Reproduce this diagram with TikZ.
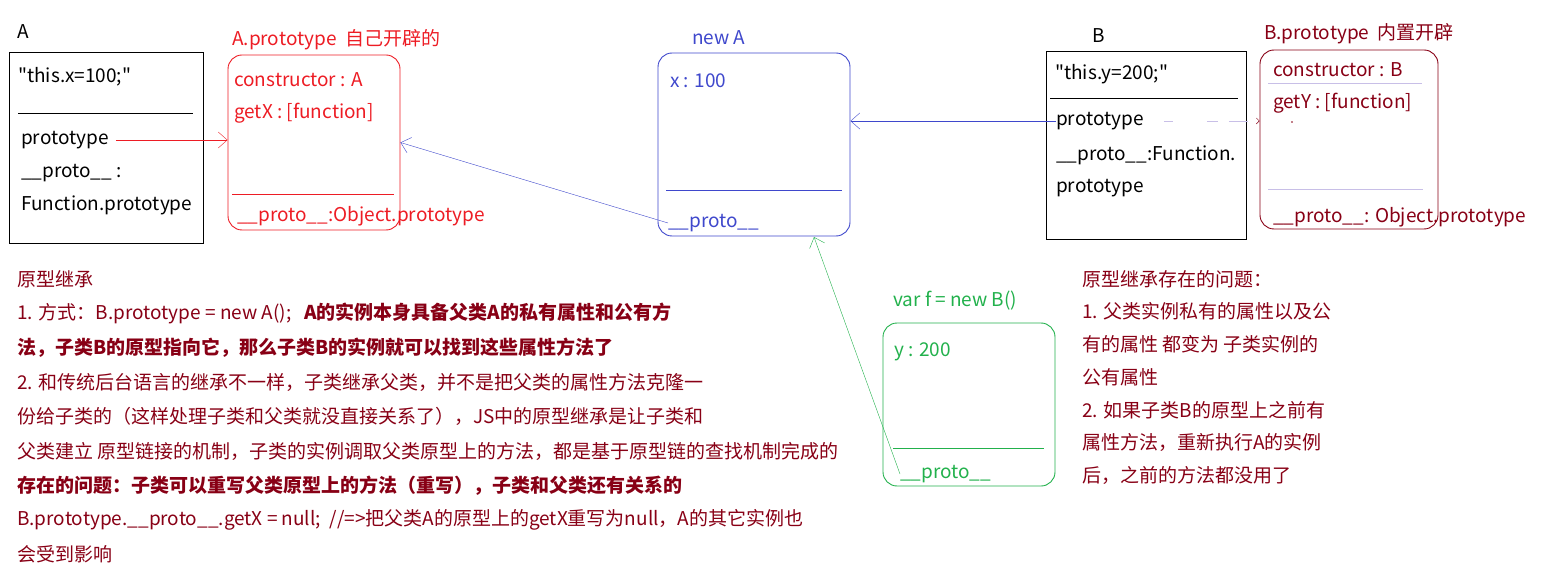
\documentclass[tikz,border=0pt]{standalone}
\usepackage{fontspec}
\setmainfont{Noto Sans CJK SC}[Ligatures=TeXOff]
\usetikzlibrary{arrows.meta}
\definecolor{pred}{HTML}{ED1C24}
\definecolor{pblue}{HTML}{3F48CC}
\definecolor{pgreen}{HTML}{22B14C}
\definecolor{pdark}{HTML}{880015}
\definecolor{plav}{HTML}{C8BFE7}

\begin{document}
\begin{tikzpicture}[x=1pt,y=-1pt,
  txt/.style={anchor=west,inner sep=0pt,yshift=-2pt,font=\fontsize{19}{21}\selectfont},
  note/.style={txt,pdark,font=\fontsize{19}{21}\selectfont},
  obj/.style={draw,line width=0.9pt,inner sep=0pt},
  rbox/.style={obj,rounded corners=14pt},
  tip/.style={-{Straight Barb[length=9pt,width=16pt]}}]

\useasboundingbox (0,0) rectangle (1544,577);

% A
\node[txt] (alab) at (17,30) {A};
\node[obj,minimum width=194,minimum height=191] (abox) at (106,147.5) {};
\node[txt] (athis) at (18,75) {"this.x=100;"};
\draw (18,113) -- (193,113);
\node[txt] (aprop) at (21,138) {prototype};
\node[txt] (aproto) at (21,171) {\_\_proto\_\_ :};
\node[txt] (afun) at (21,203) {Function.prototype};

% A.prototype
\node[txt,pred] (aplab) at (232,38) {A.prototype\ \ 自己开辟的};
\node[rbox,pred,minimum width=172,minimum height=175] (apbox) at (314,142.5) {};
\node[txt,pred] (apcons) at (234,78) {constructor : A};
\node[txt,pred] (apget) at (234,111) {getX : [function]};
\draw[pred] (232,194) -- (394,194);
\node[txt,pred] (approto) at (237,214) {\_\_proto\_\_:Object.prototype};

% new A
\node[txt,pblue] (nlab) at (692,36) {new A};
\node[rbox,pblue,minimum width=192,minimum height=183] (nbox) at (754,144.5) {};
\node[txt,pblue] (nx) at (670,79) {x : 100};
\draw[pblue] (666,190) -- (842,190);
\node[txt,pblue] (nproto) at (668,221) {\_\_proto\_\_};

% B
\node[txt] (blab) at (1092,34) {B};
\node[obj,minimum width=200,minimum height=188] (bbox) at (1146,145) {};
\node[txt] (bthis) at (1055,72) {"this.y=200;"};
\draw (1050,98) -- (1238,98);
\node[txt] (bprop) at (1056,119) {prototype};
\node[txt] (bproto) at (1056,153) {\_\_proto\_\_:Function.};
\node[txt] (bprop2) at (1056,186) {prototype};

% B.prototype
\node[txt,pdark] (bplab) at (1264,32) {B.prototype\ \ 内置开辟};
\node[rbox,pdark,minimum width=178,minimum height=179] (bpbox) at (1349,139.5) {};
\node[txt,pdark] (bpcons) at (1273,68) {constructor : B};
\draw[plav] (1268,83) -- (1422,83);
\node[txt,pdark] (bpget) at (1273,101) {getY : [function]};
\fill[pdark] (1292,122) circle (0.8);
\draw[plav] (1268,189) -- (1423,189);
\node[txt,pdark] (bpproto) at (1273,215) {\_\_proto\_\_: Object.prototype};

% var f
\node[txt,pgreen] (flab) at (893,299) {var f = new B()};
\node[rbox,pgreen,minimum width=172,minimum height=163] (fbox) at (969,404.5) {};
\node[txt,pgreen] (fy) at (894,350) {y : 200};
\draw[pgreen] (893,448) -- (1044,448);
\node[txt,pgreen] (fproto) at (900,472) {\_\_proto\_\_};

% connectors
\draw[pred,tip,shorten <=7pt] (aprop.east) -- (aprop.east -| apbox.west);
\draw[pblue,tip] (nproto.west) -- (apbox.east);
\draw[pblue,tip] (bprop.west) -- (bprop.west -| nbox.east);
\draw[plav,dash pattern=on 9pt off 34pt on 11pt off 11pt on 19pt off 10pt,
  -{Straight Barb[length=3pt,width=6pt,color=pdark]},shorten <=20pt]
  (bprop.east) -- (bprop.east -| bpbox.west);
\coordinate (ftip) at (814,237);
\draw[pgreen,tip] (fproto.west) -- (ftip);

% notes
\foreach \t [count=\i] in {原型继承,
  1. 方式：B.prototype\ =\ new A();\ \ \ {\bfseries A的实例本身具备父类A的私有属性和公有方},
  {\bfseries 法，子类B的原型指向它，那么子类B的实例就可以找到这些属性方法了},
  2. 和传统后台语言的继承不一样，子类继承父类，并不是把父类的属性方法克隆一,
  份给子类的（这样处理子类和父类就没直接关系了），JS中的原型继承是让子类和,
  父类建立 原型链接的机制，子类的实例调取父类原型上的方法，都是基于原型链的查找机制完成的,
  {\bfseries 存在的问题：子类可以重写父类原型上的方法（重写），子类和父类还有关系的},
  B.prototype.\_\_proto\_\_.getX\ =\ null;\ \ //=>把父类A的原型上的getX重写为null，A的其它实例也,
  会受到影响}
  \node[note] (l\i) at (17,{277+34.4*(\i-1)}) {\t};

\foreach \t [count=\i] in {原型继承存在的问题：,
  1. 父类实例私有的属性以及公,
  有的属性 都变为 子类实例的,
  公有属性,
  2. 如果子类B的原型上之前有,
  属性方法，重新执行A的实例,
  后，之前的方法都没用了}
  \node[note] (r\i) at (1082,{277+32.7*(\i-1)}) {\t};

\end{tikzpicture}
\end{document}
